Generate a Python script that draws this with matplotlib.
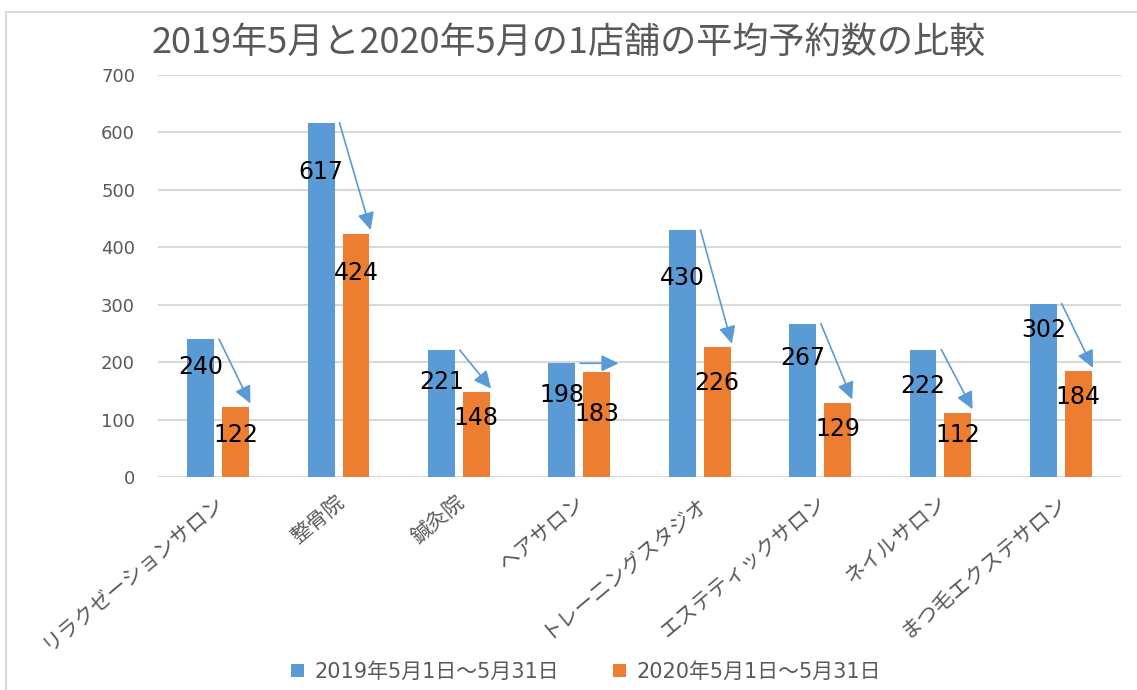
import numpy as np
import matplotlib
matplotlib.use("Agg")
import matplotlib.pyplot as plt
from matplotlib.patches import Rectangle
from matplotlib.transforms import ScaledTranslation

plt.rcParams['font.family'] = ['Noto Sans CJK JP', 'DejaVu Sans']

# data
categories = ['リラクゼーションサロン', '整骨院', '鍼灸院', 'ヘアサロン',
              'トレーニングスタジオ', 'エステティックサロン', 'ネイルサロン',
              'まつ毛エクステサロン']
values_2019 = [240, 617, 221, 198, 430, 267, 222, 302]
values_2020 = [122, 424, 148, 183, 226, 129, 112, 184]
series_names = ['2019年5月1日～5月31日', '2020年5月1日～5月31日']
title = '2019年5月と2020年5月の1店舗の平均予約数の比較'

# where the (manually placed) value labels sit, in data units
label_y_2019 = [191, 531, 165, 143, 346, 207, 158, 256]
label_y_2020 = [73, 355, 103, 110, 164, 83, 73, 139]

BLUE = '#5b9bd5'
ORANGE = '#ed7d31'
GRAY = '#595959'
GRID = '#d9d9d9'

fig = plt.figure(figsize=(11.37, 6.90), dpi=100)
fig.patches.append(Rectangle((6 / 1137, -0.01), 1.0, 1 - 12 / 690 + 0.01,
                             transform=fig.transFigure, fill=False,
                             edgecolor=GRID, lw=1.5))

ax = fig.add_axes([158 / 1137, 1 - 477 / 690, (1121 - 158) / 1137,
                   (477 - 75) / 690])

x = np.arange(len(categories))
w = 0.224
off = 0.145
bars_a = ax.bar(x - off, values_2019, w, color=BLUE, zorder=2,
                label=series_names[0])
bars_b = ax.bar(x + off, values_2020, w, color=ORANGE, zorder=2,
                label=series_names[1])

for i in range(len(categories)):
    ax.text(x[i] - off, label_y_2019[i], str(values_2019[i]), ha='center',
            va='center', fontsize=17, color='black', family='DejaVu Sans',
            zorder=4)
    ax.text(x[i] + off, label_y_2020[i], str(values_2020[i]), ha='center',
            va='center', fontsize=17, color='black', family='DejaVu Sans',
            zorder=4)

    # arrows from the 2019 bar to the 2020 bar
    a, b = values_2019[i], values_2020[i]
    start = (x[i] - off + w / 2 + 0.04, a)
    if a - b < 20:
        tip = (x[i] + off + w / 2 + 0.07, a)
    else:
        tip = (x[i] + off + w / 2 + 0.01, b + 6)
    ax.annotate('', xy=tip, xytext=start, zorder=5,
                arrowprops=dict(arrowstyle='-|>,head_length=0.75,head_width=0.36',
                                mutation_scale=14, color=BLUE, lw=1.2,
                                shrinkA=0, shrinkB=0))

ax.set_xlim(-0.5, len(categories) - 0.5)
ax.set_ylim(0, 700)
ax.set_yticks(np.arange(0, 701, 100))
ax.yaxis.grid(True, color=GRID, lw=1.5, zorder=0)
ax.set_axisbelow(True)
for s in ax.spines.values():
    s.set_visible(False)
ax.tick_params(axis='both', length=0, colors=GRAY)
ax.tick_params(axis='y', labelsize=13, pad=16.5)
for t in ax.get_yticklabels():
    t.set_family('DejaVu Sans')
ax.set_xticks(x)
ax.set_xticklabels(categories, rotation=40, ha='right', va='center',
                   rotation_mode='anchor', fontsize=15, color=GRAY)
ax.tick_params(axis='x', pad=16)
shift = ScaledTranslation(3 / 100, 0, fig.dpi_scale_trans)
for t in ax.get_xticklabels():
    t.set_transform(t.get_transform() + shift)

fig.text(0.5, 1 - 43 / 690, title, ha='center', va='center', fontsize=26,
         color=GRAY)

leg = fig.legend(handles=[bars_a, bars_b], loc='center',
                 bbox_to_anchor=(586 / 1137, 1 - 672 / 690), ncol=2,
                 frameon=False, labelcolor=GRAY, handlelength=0.6,
                 handleheight=0.6, handletextpad=0.5, columnspacing=2.6,
                 prop={'family': ['DejaVu Sans', 'Noto Sans CJK JP'],
                       'size': 15})

fig.savefig('out.png', dpi=100)
